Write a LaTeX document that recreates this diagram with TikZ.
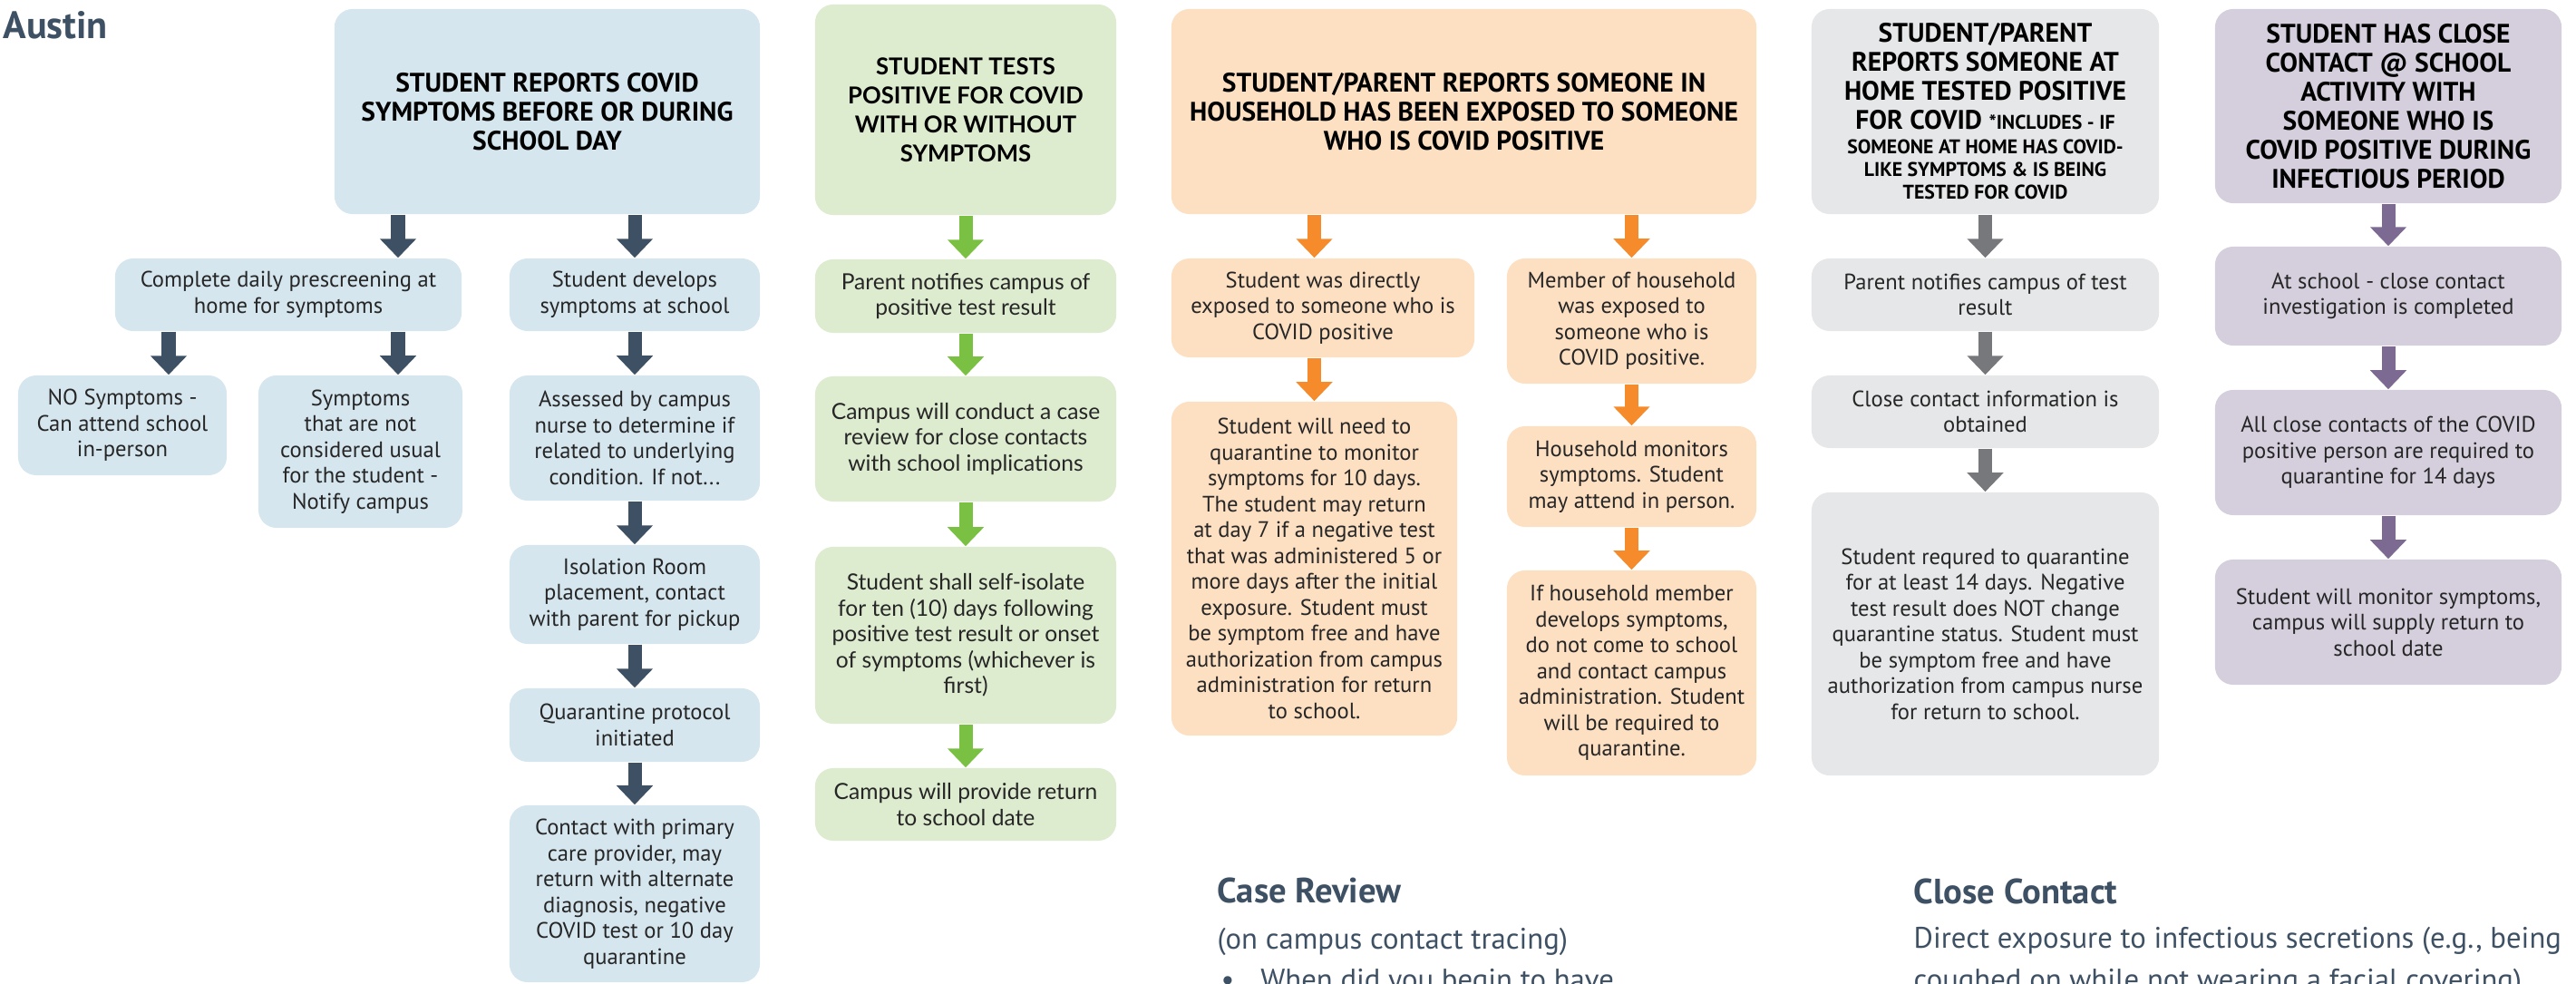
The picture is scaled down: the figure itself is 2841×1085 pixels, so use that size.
\documentclass[tikz,border=0pt]{standalone}
\usepackage{fontspec}
\setmainfont{PT Sans}
\newfontfamily\latofont{Lato}
\usetikzlibrary{arrows.meta}

\definecolor{bluefill}{HTML}{D5E6EE}
\definecolor{bluedark}{HTML}{3E5064}
\definecolor{greenfill}{HTML}{DDEBCF}
\definecolor{greendark}{HTML}{7AC143}
\definecolor{orangefill}{HTML}{FDDFC2}
\definecolor{orangedark}{HTML}{F68B2C}
\definecolor{grayfill}{HTML}{E6E7E8}
\definecolor{graydark}{HTML}{77787B}
\definecolor{purplefill}{HTML}{D5CFDD}
\definecolor{purpledark}{HTML}{7D6A92}

\tikzset{
  box/.style={rounded corners=2mm, align=center, inner sep=2pt, text=black!85, font=\fontsize{7}{8.1}\selectfont},
  head/.style={box, text=black, font=\fontsize{8.4}{9.1}\selectfont\bfseries},
  arrow/.style={line width=1.5mm, -{Triangle[width=3.9mm, length=2.1mm]}},
  title/.style={anchor=base west, inner sep=0pt, text=bluedark},
  bluebox/.style={box, fill=bluefill},
  bluehead/.style={head, fill=bluefill},
  bluearrow/.style={arrow, draw=bluedark},
  greenbox/.style={box, fill=greenfill, font=\latofont\fontsize{7}{8.1}\selectfont},
  greenhead/.style={head, fill=greenfill, font=\latofont\fontsize{7.3}{9.1}\selectfont\bfseries},
  greenarrow/.style={arrow, draw=greendark},
  orangebox/.style={box, fill=orangefill},
  orangehead/.style={head, fill=orangefill},
  orangearrow/.style={arrow, draw=orangedark},
  graybox/.style={box, fill=grayfill},
  grayhead/.style={head, fill=grayfill},
  grayarrow/.style={arrow, draw=graydark},
  purplebox/.style={box, fill=purplefill},
  purplehead/.style={head, fill=purplefill},
  purplearrow/.style={arrow, draw=purpledark},
}
\newcommand{\smallcaps}{\fontsize{6.2}{7}\selectfont}

\begin{document}
\begin{tikzpicture}[x=0.01cm, y=-0.01cm]
\useasboundingbox (0,0) rectangle (2841,1085);

\node (austin)[title, font=\fontsize{12}{14}\selectfont\bfseries] at (3,43) {Austin};

\node (B0)[bluehead, minimum width=4.69cm, minimum height=2.26cm] at (603.5,123) {STUDENT REPORTS COVID\\SYMPTOMS BEFORE OR DURING\\SCHOOL DAY};
\node (B1)[bluebox, minimum width=3.82cm, minimum height=0.8cm] at (318,325) {Complete daily prescreening at\\home for symptoms};
\node (B2)[bluebox, minimum width=2.76cm, minimum height=0.8cm] at (700,325) {Student develops\\symptoms at school};
\node (B3)[bluebox, minimum width=2.3cm, minimum height=1.1cm] at (135,469) {NO Symptoms -\\Can attend school\\in-person};
\node (B4)[bluebox, minimum width=2.25cm, minimum height=1.68cm] at (397.5,498) {Symptoms\\that are not\\considered usual\\for the student -\\Notify campus};
\node (B5)[bluebox, minimum width=2.76cm, minimum height=1.38cm] at (700,483) {Assessed by campus\\nurse to determine if\\related to underlying\\condition. If not...};
\node (B6)[bluebox, minimum width=2.76cm, minimum height=1.09cm] at (700,655.5) {Isolation Room\\placement, contact\\with parent for pickup};
\node (B7)[bluebox, minimum width=2.76cm, minimum height=0.81cm] at (700,799.5) {Quarantine protocol\\initiated};
\node (B8)[bluebox, minimum width=2.76cm, minimum height=1.95cm] at (700,985.5) {Contact with primary\\care provider, may\\return with alternate\\diagnosis, negative\\COVID test or 10 day\\quarantine};

\node (G0)[greenhead, minimum width=3.32cm, minimum height=2.32cm] at (1065,121) {STUDENT TESTS\\POSITIVE FOR COVID\\WITH OR WITHOUT\\SYMPTOMS};
\node (G1)[greenbox, minimum width=3.32cm, minimum height=0.81cm] at (1065,326.5) {Parent notifies campus of\\positive test result};
\node (G2)[greenbox, minimum width=3.32cm, minimum height=1.38cm] at (1065,484) {Campus will conduct a case\\review for close contacts\\with school implications};
\node (G3)[greenbox, minimum width=3.32cm, minimum height=1.95cm] at (1065,700.5) {Student shall self-isolate\\for ten (10) days following\\positive test result or onset\\of symptoms (whichever is\\first)};
\node (G4)[greenbox, minimum width=3.32cm, minimum height=0.8cm] at (1065,887) {Campus will provide return\\to school date};

\node (O0)[orangehead, minimum width=6.45cm, minimum height=2.26cm] at (1614.5,123) {STUDENT/PARENT REPORTS SOMEONE IN\\HOUSEHOLD HAS BEEN EXPOSED TO SOMEONE\\WHO IS COVID POSITIVE};
\node (O1)[orangebox, minimum width=3.34cm, minimum height=1.09cm] at (1459,339.5) {Student was directly\\exposed to someone who is\\COVID positive};
\node (O2)[orangebox, minimum width=2.75cm, minimum height=1.38cm] at (1799.5,354) {Member of household\\was exposed to\\someone who is\\COVID positive.};
\node (O3)[orangebox, minimum width=3.15cm, minimum height=3.68cm] at (1449.5,627) {Student will need to\\quarantine to monitor\\symptoms for 10 days.\\The student may return\\at day 7 if a negative test\\that was administered 5 or\\more days after the initial\\exposure. Student must\\be symptom free and have\\authorization from campus\\administration for return\\to school.};
\node (O4)[orangebox, minimum width=2.75cm, minimum height=1.11cm] at (1799.5,525.5) {Household monitors\\symptoms. Student\\may attend in person.};
\node (O5)[orangebox, minimum width=2.75cm, minimum height=2.26cm] at (1799.5,742) {If household member\\develops symptoms,\\do not come to school\\and contact campus\\administration. Student\\will be required to\\quarantine.};

\node (R0)[grayhead, minimum width=3.83cm, minimum height=2.26cm] at (2189.5,123) {STUDENT/PARENT\\REPORTS SOMEONE AT\\HOME TESTED POSITIVE\\FOR COVID {\smallcaps *INCLUDES - IF}\\[-1.4pt]{\smallcaps SOMEONE AT HOME HAS COVID-}\\[-2pt]{\smallcaps LIKE SYMPTOMS \& IS BEING}\\[-2pt]{\smallcaps TESTED FOR COVID}};
\node (R1)[graybox, minimum width=3.83cm, minimum height=0.8cm] at (2189.5,325) {Parent notifies campus of test\\result};
\node (R2)[graybox, minimum width=3.83cm, minimum height=0.8cm] at (2189.5,454) {Close contact information is\\obtained};
\node (R3)[graybox, minimum width=3.83cm, minimum height=3.12cm] at (2189.5,699) {Student requred to quarantine\\for at least 14 days. Negative\\test result does NOT change\\quarantine status. Student must\\be symptom free and have\\authorization from campus nurse\\for return to school.};

\node (P0)[purplehead, minimum width=3.82cm, minimum height=2.14cm] at (2634,117) {STUDENT HAS CLOSE\\CONTACT @ SCHOOL\\ACTIVITY WITH\\SOMEONE WHO IS\\COVID POSITIVE DURING\\INFECTIOUS PERIOD};
\node (P1)[purplebox, minimum width=3.82cm, minimum height=1.09cm] at (2634,326.5) {At school - close contact\\investigation is completed};
\node (P2)[purplebox, minimum width=3.82cm, minimum height=1.38cm] at (2634,499) {All close contacts of the COVID\\positive person are required to\\quarantine for 14 days};
\node (P3)[purplebox, minimum width=3.82cm, minimum height=1.38cm] at (2634,686) {Student will monitor symptoms,\\campus will supply return to\\school date};

\node (case)[title, font=\fontsize{11}{13}\selectfont\bfseries] at (1342,995) {Case Review};
\node (casesub)[title, font=\fontsize{9.3}{13}\selectfont] at (1342,1046) {(on campus contact tracing)};
\node (casebullet)[title, font=\fontsize{9.3}{13}\selectfont] at (1346,1091) {\makebox[12.4pt][l]{\textbullet}When did you begin to have};
\node (close)[title, font=\fontsize{11}{13}\selectfont\bfseries] at (2110,996) {Close Contact};
\node (closeone)[title, font=\fontsize{9.3}{13}\selectfont] at (2110,1045) {Direct exposure to infectious secretions (e.g., being};
\node (closetwo)[title, font=\fontsize{9.3}{13}\selectfont] at (2110,1091) {coughed on while not wearing a facial covering)};

\coordinate (lane1) at (186,0);
\coordinate (lane2) at (439,0);
\draw[bluearrow] (B0.south -| lane2) -- (B1.north -| lane2);
\draw[bluearrow] (B0.south -| B2) -- (B2.north);
\draw[bluearrow] (B1.south -| lane1) -- (B3.north -| lane1);
\draw[bluearrow] (B1.south -| lane2) -- (B4.north -| lane2);
\draw[bluearrow] (B2.south) -- (B5.north);
\draw[bluearrow] (B5.south) -- (B6.north);
\draw[bluearrow] (B6.south) -- (B7.north);
\draw[bluearrow] (B7.south) -- (B8.north);

\draw[greenarrow] (G0.south) -- (G1.north);
\draw[greenarrow] (G1.south) -- (G2.north);
\draw[greenarrow] (G2.south) -- (G3.north);
\draw[greenarrow] (G3.south) -- (G4.north);

\draw[orangearrow] (O0.south -| O3) -- (O1.north -| O3);
\draw[orangearrow] (O1.south -| O3) -- (O3.north);
\draw[orangearrow] (O0.south -| O2) -- (O2.north);
\draw[orangearrow] (O2.south) -- (O4.north);
\draw[orangearrow] (O4.south) -- (O5.north);

\draw[grayarrow] (R0.south) -- (R1.north);
\draw[grayarrow] (R1.south) -- (R2.north);
\draw[grayarrow] (R2.south) -- (R3.north);

\draw[purplearrow] (P0.south) -- (P1.north);
\draw[purplearrow] (P1.south) -- (P2.north);
\draw[purplearrow] (P2.south) -- (P3.north);
\end{tikzpicture}
\end{document}
